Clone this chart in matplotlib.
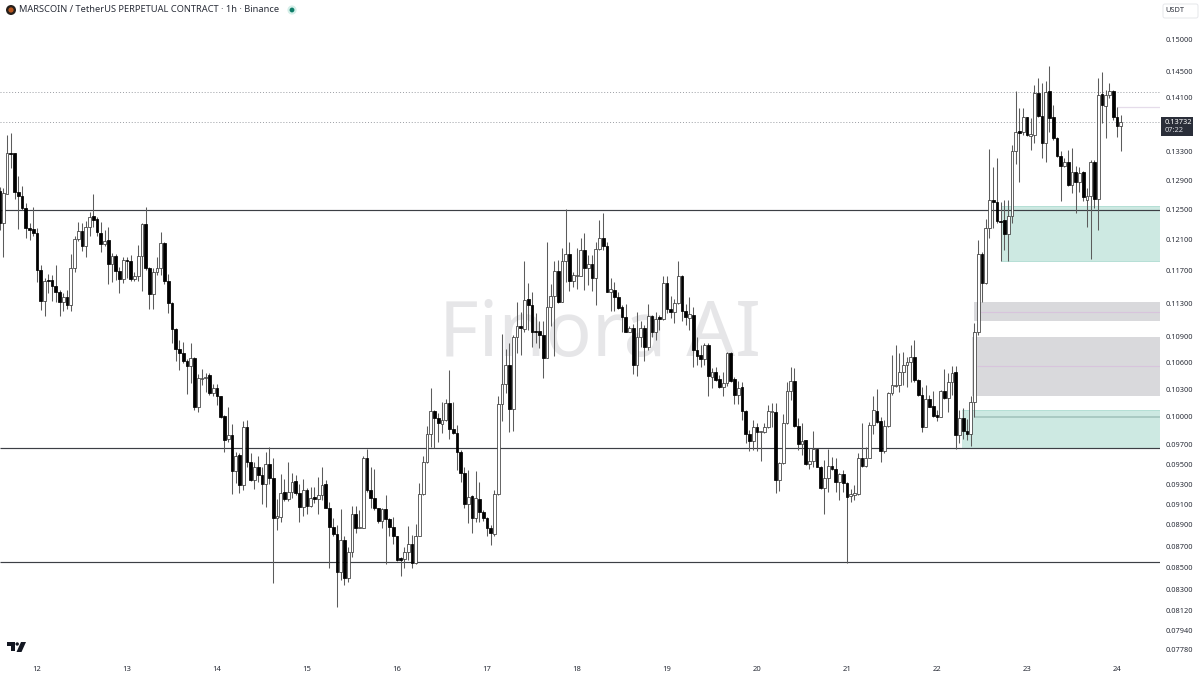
import numpy as np
import matplotlib
matplotlib.use("Agg")
import matplotlib.pyplot as plt
from matplotlib.patches import Circle, FancyBboxPatch, Polygon, Rectangle

# Prices in units of 0.0001 USDT, one entry per hourly candle
opens = [1275,1232,1271,1328,1328,1274,1268,1252,1225,1224,1219,1171,1133,1159,1159,1151,1144,1131,1137,1128,
1174,1211,1221,1202,1227,1241,1237,1219,1204,1209,1179,1189,1170,1160,1184,1183,1160,1163,1189,1231,
1174,1141,1168,1174,1206,1157,1130,1099,1076,1071,1062,1056,1065,1011,1041,1043,1046,1026,1031,1022,
1001,976,980,943,960,929,989,952,934,947,939,930,950,936,897,898,922,915,922,933,
921,907,924,908,917,915,919,930,906,888,881,846,876,841,864,901,887,887,956,924,
916,906,894,905,896,888,879,859,858,864,872,854,879,920,952,982,1006,999,992,996,
1015,987,983,963,941,910,918,897,915,902,897,887,881,920,1014,1036,1057,1008,1090,1102,
1099,1135,1128,1097,1097,1092,1065,1125,1139,1170,1131,1182,1192,1157,1164,1164,1197,1174,1178,1161,
1198,1212,1202,1144,1146,1137,1125,1113,1096,1100,1057,1089,1100,1078,1115,1095,1113,1111,1155,1123,
1119,1130,1164,1121,1112,1116,1074,1069,1064,1080,1044,1049,1041,1033,1037,1071,1041,1024,1033,1006,
982,974,989,984,984,989,1005,1005,934,951,993,1028,1039,990,971,975,950,953,966,947,
926,936,948,945,932,940,931,918,919,920,956,948,957,991,1006,995,964,990,1026,1034,
1035,1049,1057,1061,1066,1040,1024,989,1019,1012,1002,1000,1028,1020,1038,1049,980,999,985,981,
1016,1095,1192,1155,1225,1263,1260,1235,1236,1217,1241,1331,1360,1359,1381,1353,1354,1417,1382,1343,
1420,1381,1350,1324,1310,1316,1283,1302,1288,1302,1263,1268,1316,1264,1415,1397,1414,1420,1381,1367]
highs = [1281,1279,1354,1357,1328,1296,1282,1259,1232,1253,1225,1177,1161,1166,1165,1177,1146,1142,1146,1192,
1215,1233,1232,1235,1247,1271,1240,1233,1223,1227,1193,1192,1175,1188,1188,1190,1169,1203,1232,1253,
1175,1174,1187,1220,1207,1166,1131,1100,1086,1084,1064,1083,1066,1047,1053,1048,1048,1036,1036,1023,
1002,1011,992,963,962,995,996,962,952,959,947,963,968,957,915,940,935,952,941,939,
930,935,926,927,927,937,947,934,912,897,890,905,879,869,908,908,904,959,966,947,
945,906,906,919,897,898,879,860,869,889,880,891,931,959,990,1031,1007,1004,1016,1019,
1052,1016,991,965,947,944,919,943,932,904,898,890,924,1022,1093,1076,1082,1092,1131,1119,
1182,1155,1144,1118,1109,1109,1207,1154,1183,1184,1199,1251,1207,1168,1199,1212,1219,1190,1190,1207,
1236,1245,1207,1161,1156,1144,1128,1129,1102,1105,1119,1108,1104,1129,1116,1119,1116,1163,1163,1139,
1135,1182,1165,1129,1137,1125,1090,1080,1083,1083,1054,1055,1046,1049,1072,1072,1044,1039,1038,1007,
986,996,993,985,993,1013,1015,1015,952,1003,1038,1055,1054,999,993,975,967,985,966,948,
954,966,958,957,941,944,932,925,929,962,993,968,994,1022,1030,1000,996,1027,1069,1080,
1071,1072,1066,1080,1086,1041,1033,1035,1024,1028,1007,1029,1053,1048,1056,1056,1007,1009,997,1023,
1106,1209,1194,1237,1334,1309,1321,1260,1263,1263,1340,1420,1394,1394,1381,1379,1429,1440,1432,1435,
1458,1399,1351,1331,1321,1332,1335,1310,1309,1303,1279,1318,1318,1440,1449,1421,1432,1421,1396,1384]
lows = [1223,1188,1271,1307,1264,1224,1249,1212,1209,1215,1156,1122,1115,1142,1133,1131,1115,1121,1123,1121,
1168,1208,1195,1187,1215,1227,1215,1194,1202,1154,1156,1159,1142,1155,1161,1157,1157,1157,1145,1171,
1123,1123,1165,1165,1154,1118,1082,1062,1052,1060,1025,1037,1007,1005,1035,1027,1024,1022,1013,999,
963,973,920,931,921,924,947,933,925,932,910,907,930,836,885,893,913,913,916,919,
893,899,901,907,911,901,914,906,850,879,815,839,834,837,860,882,887,887,922,906,
904,892,887,853,879,872,856,842,850,857,850,853,879,919,951,968,967,973,983,995,
976,981,944,932,906,892,882,893,893,894,879,871,879,919,995,1026,984,985,1071,1069,
1096,1098,1078,1083,1077,1043,1065,1102,1067,1130,1131,1156,1145,1150,1147,1164,1146,1152,1145,1128,
1197,1197,1144,1121,1121,1123,1095,1095,1095,1047,1045,1078,1062,1074,1089,1086,1098,1110,1118,1112,
1106,1129,1108,1104,1098,1055,1057,1055,1057,1022,1031,1039,1031,1023,1034,1038,1014,1014,996,972,
964,965,964,953,983,988,989,921,923,950,992,1018,989,965,960,949,945,947,947,925,
901,922,944,922,914,922,854,912,914,919,947,947,957,981,993,952,962,989,1024,1033,
1027,1035,1033,1038,1038,1023,984,989,1011,1000,995,1000,1019,1005,1024,966,972,976,975,969,
1000,1092,1131,1154,1212,1225,1232,1182,1197,1182,1232,1312,1288,1354,1353,1332,1343,1381,1321,1316,
1359,1347,1323,1261,1309,1282,1272,1245,1274,1261,1227,1185,1252,1223,1372,1350,1409,1376,1351,1331]
closes = [1232,1272,1328,1327,1274,1268,1252,1225,1223,1219,1171,1133,1157,1157,1151,1144,1131,1137,1128,1174,
1211,1221,1202,1227,1240,1236,1220,1204,1208,1178,1189,1170,1160,1184,1183,1160,1163,1189,1231,1173,
1141,1168,1174,1206,1157,1130,1099,1076,1071,1062,1056,1065,1011,1043,1043,1044,1026,1031,1022,1000,
975,980,943,959,929,989,952,934,947,939,930,950,936,897,899,921,915,922,932,921,
907,924,908,916,915,919,929,906,888,881,846,876,841,864,901,887,888,956,924,916,
906,894,905,896,888,879,857,857,864,872,854,879,920,952,982,1006,999,993,996,1015,
987,983,963,941,910,917,897,916,902,897,887,882,920,1014,1036,1057,1008,1090,1102,1100,
1134,1128,1096,1096,1092,1065,1125,1139,1170,1131,1182,1192,1157,1165,1165,1197,1174,1178,1161,1198,
1212,1202,1144,1147,1137,1124,1113,1096,1100,1057,1089,1100,1078,1115,1095,1111,1111,1155,1123,1119,
1130,1164,1121,1113,1117,1074,1067,1064,1080,1045,1049,1040,1033,1037,1071,1039,1024,1031,1006,982,
974,989,984,985,989,1006,1006,934,951,993,1028,1039,990,971,974,950,953,966,947,926,
936,948,945,932,940,931,917,920,921,957,948,957,991,1007,994,964,990,1026,1035,1035,
1049,1057,1061,1066,1040,1024,989,1019,1011,1001,1000,1028,1020,1038,1048,980,999,985,981,1016,
1095,1192,1155,1225,1263,1260,1235,1233,1217,1241,1331,1359,1357,1381,1354,1356,1417,1382,1343,1418,
1379,1350,1324,1310,1316,1283,1302,1288,1300,1267,1268,1316,1264,1414,1399,1414,1420,1381,1367,1373]

day_labels = ["12","13","14","15","16","17","18","19","20","21","22","23","24"]
day_first_candle = 10
candles_per_day = 24
price_ticks = [0.15,0.145,0.141,0.133,0.129,0.125,0.121,0.117,0.113,0.109,0.106,0.103,0.1,
               0.097,0.095,0.093,0.091,0.089,0.087,0.085,0.083,0.0812,0.0794,0.0778]
support_levels = [0.1249,0.0967,0.0855]
dotted_levels = [0.1418,0.1374]
green_zones = [(0.1255,0.1182,267),(0.1007,0.0967,256.6)]
gray_zones = [(0.1131,0.1108,260,0.1119,261.5),(0.1089,0.1023,259.3,0.1056,260.7)]
last_price = "0.13732"
countdown = "07:22"

W, H = 1200, 675
FONT = "Noto Sans"
plt.rcParams["font.family"] = [FONT, "DejaVu Sans"]

o, h, l, c = [np.array(a, float) / 1e4 for a in (opens, highs, lows, closes)]
x = np.arange(len(o))
up = c >= o

fig = plt.figure(figsize=(W/100, H/100), dpi=100, facecolor="white")
ax = fig.add_axes([0, 15/H, 1160/W, 660/H])
ax.set_facecolor("white")
ax.set_yscale("log")
px_per_ln = 929.0
ax.set_ylim(0.15*np.exp(-620/px_per_ln), 0.15*np.exp(40/px_per_ln))
ax.set_xlim(0.133, 309.47)
for s in ax.spines.values():
    s.set_visible(False)

ax.minorticks_off()
ax.yaxis.tick_right()
ax.set_yticks(price_ticks)
ax.set_yticklabels([f"{t:.5f}" for t in price_ticks], fontsize=5.3, color="#2a2e39")
ax.yaxis.set_minor_locator(matplotlib.ticker.NullLocator())
ax.tick_params(axis="y", length=0, pad=4.2)
ax.set_xticks([day_first_candle + candles_per_day*k for k in range(len(day_labels))])
ax.set_xticklabels(day_labels, fontsize=5.5, color="#2a2e39")
ax.tick_params(axis="x", length=0, pad=4.6)

ax.text(600/1160, 1-336/660, "Finora AI", transform=ax.transAxes, ha="center", va="center",
        fontsize=55, color="#e6e6e8", zorder=0, family=FONT)

right = 309.47
for top, bot, x0 in green_zones:
    ax.fill_between([x0, right], bot, top, color="#cde9e2", lw=0, zorder=1)
    ax.hlines([top, bot], x0, right, color="#b5dfd5", lw=0.7, zorder=1.1)
for top, bot, x0, mid, xm in gray_zones:
    ax.fill_between([x0, right], bot, top, color="#d9d9dc", lw=0, zorder=1)
    ax.hlines(mid, xm, right, color="#d8c4dc", lw=0.8, zorder=1.1)
ax.hlines(0.1000, 260, right, color="#a3c4bd", lw=1.2, zorder=1.2)
ax.hlines(0.1396, 298, right, color="#e5dcea", lw=0.9, zorder=1.2)

ax.hlines(support_levels, 0.133, right, color="#3c3f45", lw=0.85, zorder=2)
ax.hlines(dotted_levels, 0.133, right, color="#9a9da3", lw=0.7, linestyles=(0, (1, 2)), zorder=2)

ax.vlines(x, l, h, color="#5c5c5c", lw=0.75, zorder=3)
ax.bar(x[up], (c-o)[up], bottom=o[up], width=0.78, facecolor="white", edgecolor="#3a3a3a", lw=0.55, zorder=4)
ax.bar(x[~up], (o-c)[~up], bottom=c[~up], width=0.78, facecolor="black", edgecolor="black", lw=0.55, zorder=4)

# header, logo and price tag, placed in figure pixels
def fx(px): return px/W
def fy(py): return 1-py/H
fig.text(fx(19), fy(10), "MARSCOIN / TetherUS PERPETUAL CONTRACT · 1h · Binance",
         fontsize=6.7, color="#2a2e39", va="center", ha="left")
px_ax = fig.add_axes([0, 0, 1, 1], facecolor="none")
px_ax.set_xlim(0, W); px_ax.set_ylim(H, 0); px_ax.axis("off"); px_ax.set_zorder(10)
px_ax.add_patch(Circle((11, 10), 5, color="#26201c", lw=0))
px_ax.add_patch(Circle((11, 10), 2.6, color="#b8561f", lw=0))
px_ax.add_patch(Circle((292, 10), 4.6, color="#d5efe9", lw=0))
px_ax.add_patch(Circle((292, 10), 2.4, color="#0e7d68", lw=0))
px_ax.add_patch(Polygon([(7,642),(15,642),(15,651),(11,651),(11,646),(7,646)], color="#131722", lw=0))
px_ax.add_patch(Circle((17.2, 644), 1.7, color="#131722", lw=0))
px_ax.add_patch(Polygon([(21,642),(26,642),(21.5,652),(16.5,652)], color="#131722", lw=0))
px_ax.add_patch(FancyBboxPatch((1163, 4), 35, 14, boxstyle="round,pad=0,rounding_size=2",
                               fc="white", ec="#e6e7ea", lw=0.7))
px_ax.text(1165, 11, "USDT", fontsize=5.3, color="#2a2e39", va="center", ha="left")
px_ax.add_patch(Rectangle((1161, 117), 32, 19, color="#2a2e39", lw=0))
px_ax.text(1165, 122.5, last_price, fontsize=5.3, color="white", va="center", ha="left")
px_ax.text(1165, 131, countdown, fontsize=5.3, color="#d8dae0", va="center", ha="left")

fig.savefig("out.png", dpi=100, facecolor="white")
